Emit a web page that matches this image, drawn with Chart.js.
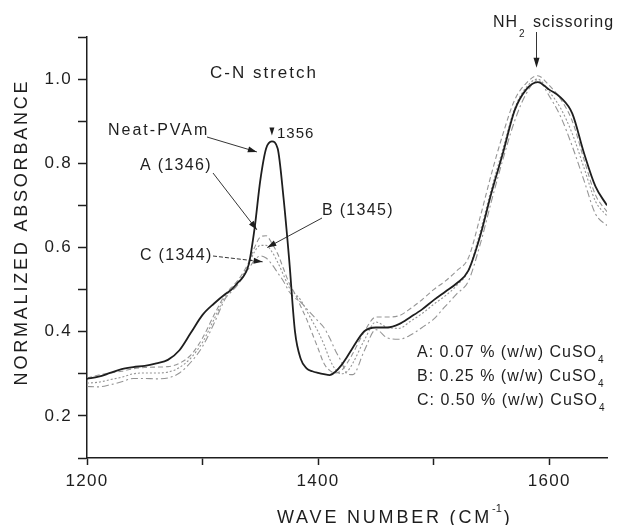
<!DOCTYPE html>
<html>
<head>
<meta charset="utf-8">
<script src="https://cdn.jsdelivr.net/npm/chart.js@4.4.0/dist/chart.umd.min.js"></script>
<style>
  html, body { margin: 0; padding: 0; background: #fff; }
  canvas { display: block; }
</style>
</head>
<body>
<canvas id="spectrum" width="640" height="525"></canvas>
<script>
/* FTIR spectra: neat PVAm vs CuSO4-loaded samples (normalized absorbance) */

const X_MIN = 1200, X_MAX = 1650, X_STEP = 100;
const Y_MIN = 0.1, Y_MAX = 1.1, Y_STEP = 0.1;

const wavenumbers = [
  1200, 1210, 1220, 1230, 1240, 1250, 1260, 1270, 1280, 1290, 1300, 1310, 1320,
  1325, 1330, 1335, 1340, 1345, 1350, 1355, 1360, 1365, 1370, 1375, 1380, 1385,
  1390, 1395, 1400, 1405, 1410, 1415, 1420, 1425, 1430,
  1440, 1450, 1460, 1470, 1480, 1490, 1500, 1510, 1520, 1530, 1540, 1550, 1560,
  1570, 1580, 1590, 1600, 1610, 1620, 1630, 1640, 1650
];

const neatPVAm = [
  0.288, 0.293, 0.302, 0.311, 0.316, 0.319, 0.325, 0.333, 0.356, 0.398, 0.440, 0.467, 0.490,
  0.500, 0.515, 0.530, 0.560, 0.645, 0.760, 0.835, 0.852, 0.835, 0.720, 0.570, 0.400, 0.335,
  0.313, 0.306, 0.302, 0.299, 0.297, 0.305, 0.320, 0.340, 0.362,
  0.401, 0.410, 0.410, 0.418, 0.435, 0.453, 0.475, 0.495, 0.515, 0.545, 0.625, 0.730, 0.825,
  0.925, 0.975, 0.993, 0.975, 0.956, 0.918, 0.825, 0.745, 0.700
];

// A: 0.07 % (w/w) CuSO4
const sampleA = [
  0.290, 0.297, 0.302, 0.306, 0.312, 0.315, 0.316, 0.317, 0.325, 0.345, 0.385, 0.440, 0.490,
  0.505, 0.520, 0.540, 0.565, 0.600, 0.625, 0.628, 0.610, 0.585, 0.550, 0.515, 0.490, 0.460,
  0.430, 0.395, 0.360, 0.325, 0.308, 0.302, 0.307, 0.325, 0.348,
  0.400, 0.435, 0.435, 0.438, 0.455, 0.476, 0.500, 0.520, 0.545, 0.575, 0.670, 0.775, 0.870,
  0.950, 0.990, 1.008, 0.985, 0.952, 0.900, 0.810, 0.725, 0.685
];

// B: 0.25 % (w/w) CuSO4
const sampleB = [
  0.278, 0.280, 0.286, 0.292, 0.300, 0.302, 0.302, 0.304, 0.315, 0.338, 0.375, 0.430, 0.485,
  0.500, 0.515, 0.535, 0.560, 0.590, 0.605, 0.605, 0.590, 0.565, 0.535, 0.505, 0.490, 0.475,
  0.450, 0.425, 0.400, 0.370, 0.335, 0.310, 0.300, 0.305, 0.325,
  0.380, 0.423, 0.410, 0.408, 0.425, 0.443, 0.465, 0.485, 0.510, 0.545, 0.635, 0.740, 0.835,
  0.930, 0.980, 1.000, 0.970, 0.930, 0.870, 0.790, 0.710, 0.675
];

// C: 0.50 % (w/w) CuSO4
const sampleC = [
  0.270, 0.269, 0.274, 0.281, 0.289, 0.289, 0.288, 0.290, 0.302, 0.328, 0.365, 0.420, 0.480,
  0.495, 0.510, 0.530, 0.550, 0.570, 0.580, 0.575, 0.560, 0.540, 0.520, 0.495, 0.480, 0.470,
  0.455, 0.440, 0.425, 0.410, 0.385, 0.355, 0.330, 0.300, 0.298,
  0.355, 0.405, 0.385, 0.382, 0.392, 0.410, 0.430, 0.460, 0.490, 0.520, 0.605, 0.710, 0.810,
  0.900, 0.965, 0.997, 0.960, 0.910, 0.840, 0.760, 0.680, 0.652
];

const legendLines = [
  ['A: 0.07 % (w/w) CuSO', '4'],
  ['B: 0.25 % (w/w) CuSO', '4'],
  ['C: 0.50 % (w/w) CuSO', '4']
];

const FONT = '"Liberation Sans", Arial, Helvetica, sans-serif';
const INK = '#1e1e1e';
const GREY = '#959595';

function toPoints(values) {
  return values.map((y, i) => ({ x: wavenumbers[i], y }));
}

function spectrum(label, values, color, width, dash) {
  return {
    label,
    data: toPoints(values),
    borderColor: color,
    borderWidth: width,
    borderDash: dash,
    cubicInterpolationMode: 'monotone',
    pointRadius: 0,
    fill: false,
  };
}

/* --- text / arrow helpers for the annotation layer --- */

function label(ctx, str, x, y, size, spacing, align) {
  ctx.font = size + 'px ' + FONT;
  ctx.letterSpacing = spacing + 'px';
  ctx.textAlign = align || 'left';
  ctx.fillText(str, x, y);
  return ctx.measureText(str).width;
}

function arrowHead(ctx, x1, y1, x2, y2, len, half) {
  const a = Math.atan2(y2 - y1, x2 - x1);
  ctx.beginPath();
  ctx.moveTo(x2, y2);
  ctx.lineTo(x2 - len * Math.cos(a) + half * Math.sin(a), y2 - len * Math.sin(a) - half * Math.cos(a));
  ctx.lineTo(x2 - len * Math.cos(a) - half * Math.sin(a), y2 - len * Math.sin(a) + half * Math.cos(a));
  ctx.closePath();
  ctx.fill();
}

function arrow(ctx, x1, y1, x2, y2, dash) {
  ctx.setLineDash(dash || []);
  ctx.beginPath();
  ctx.moveTo(x1, y1);
  ctx.lineTo(x2, y2);
  ctx.stroke();
  ctx.setLineDash([]);
  arrowHead(ctx, x1, y1, x2, y2, 9, 3);
}

const tickSpacing = {
  id: 'tickSpacing',
  beforeDraw(chart) { chart.ctx.letterSpacing = '1.3px'; }
};

const spectrumNotes = {
  id: 'spectrumNotes',
  afterDraw(chart) {
    const ctx = chart.ctx;
    const xs = chart.scales.x, ys = chart.scales.y;
    const px = (wn) => xs.getPixelForValue(wn);
    const py = (ab) => ys.getPixelForValue(ab);

    ctx.save();
    ctx.fillStyle = INK;
    ctx.strokeStyle = INK;
    ctx.lineWidth = 0.9;
    ctx.textBaseline = 'alphabetic';

    // C-N stretch band
    label(ctx, 'C-N stretch', 210, 78, 17, 2);

    label(ctx, 'Neat-PVAm', 108, 135, 16, 2);
    arrow(ctx, 207, 137, px(1347), py(0.827));

    // peak marker 1356
    const tx = px(1360), ty = py(0.866);
    ctx.beginPath();
    ctx.moveTo(tx, ty);
    ctx.lineTo(tx - 2.5, ty - 8);
    ctx.lineTo(tx + 2.5, ty - 8);
    ctx.closePath();
    ctx.fill();
    label(ctx, '1356', 277, 138, 15, 1);

    label(ctx, 'A (1346)', 140, 170, 16, 1.3);
    arrow(ctx, 213, 173, px(1347), py(0.642));

    label(ctx, 'B (1345)', 322, 215, 16, 1.3);
    arrow(ctx, 322, 218, px(1356), py(0.600));

    label(ctx, 'C (1344)', 140, 260, 16, 1.3);
    arrow(ctx, 213, 256, px(1352), py(0.566), [4, 2]);

    // NH2 scissoring band
    let w = label(ctx, 'NH', 493, 27, 16, 1);
    label(ctx, '2', 493 + w + 1, 37, 10, 0);
    label(ctx, 'scissoring', 533, 27, 16, 1);
    const nx = px(1589);
    ctx.beginPath();
    ctx.moveTo(nx, 32);
    ctx.lineTo(nx, py(1.027) - 6);
    ctx.stroke();
    arrowHead(ctx, nx, 32, nx, py(1.027), 10, 3);

    // sample key
    legendLines.forEach((line, i) => {
      const y = 357 + i * 24;
      const lw = label(ctx, line[0], 417, y, 16, 1);
      label(ctx, line[1], 417 + lw + 1, y + 6, 10, 0);
    });

    // axis titles
    ctx.save();
    ctx.translate(27, 232);
    ctx.rotate(-Math.PI / 2);
    label(ctx, 'NORMALIZED ABSORBANCE', 0, 0, 18, 2.8, 'center');
    ctx.restore();

    w = label(ctx, 'WAVE NUMBER (CM', 277, 523, 18, 2.8);
    const sw = label(ctx, '-1', 277 + w, 512, 11, 0);
    label(ctx, ')', 277 + w + sw + 2, 523, 18, 0);

    ctx.restore();
  }
};

const tickFont = { family: FONT, size: 17 };

new Chart(document.getElementById('spectrum'), {
  type: 'line',
  data: {
    datasets: [
      spectrum('Neat-PVAm', neatPVAm, INK, 1.8, []),
      spectrum('A', sampleA, GREY, 1.1, [5, 3]),
      spectrum('B', sampleB, GREY, 1.1, [2, 2]),
      spectrum('C', sampleC, GREY, 1.1, [7, 3, 2, 3]),
    ]
  },
  options: {
    responsive: false,
    animation: false,
    layout: { padding: { top: 37, right: 33, left: 0, bottom: 0 } },
    plugins: {
      legend: { display: false },
      tooltip: { enabled: false },
    },
    scales: {
      x: {
        type: 'linear',
        min: X_MIN,
        max: X_MAX,
        afterFit: (s) => { s.height = 67; },
        border: { display: true, color: INK, width: 1.5 },
        grid: { drawOnChartArea: false, tickLength: 7, color: INK, tickWidth: 1.5 },
        ticks: {
          stepSize: X_STEP,
          includeBounds: false,
          autoSkip: false,
          maxRotation: 0,
          padding: 6,
          color: INK,
          font: tickFont,
          callback: (v) => (v % 200 === 0 ? String(v) : ''),
        }
      },
      y: {
        min: Y_MIN,
        max: Y_MAX,
        afterFit: (s) => { s.width = 87; },
        border: { display: true, color: INK, width: 1.5 },
        grid: { drawOnChartArea: false, tickLength: 9, color: INK, tickWidth: 1.5 },
        ticks: {
          stepSize: Y_STEP,
          autoSkip: false,
          padding: 6,
          color: INK,
          font: tickFont,
          callback: (v) => {
            const k = Math.round(v * 10);
            return (k % 2 === 0 && k >= 2 && k <= 10) ? (k / 10).toFixed(1) : '';
          },
        }
      }
    }
  },
  plugins: [tickSpacing, spectrumNotes]
});
</script>
</body>
</html>
